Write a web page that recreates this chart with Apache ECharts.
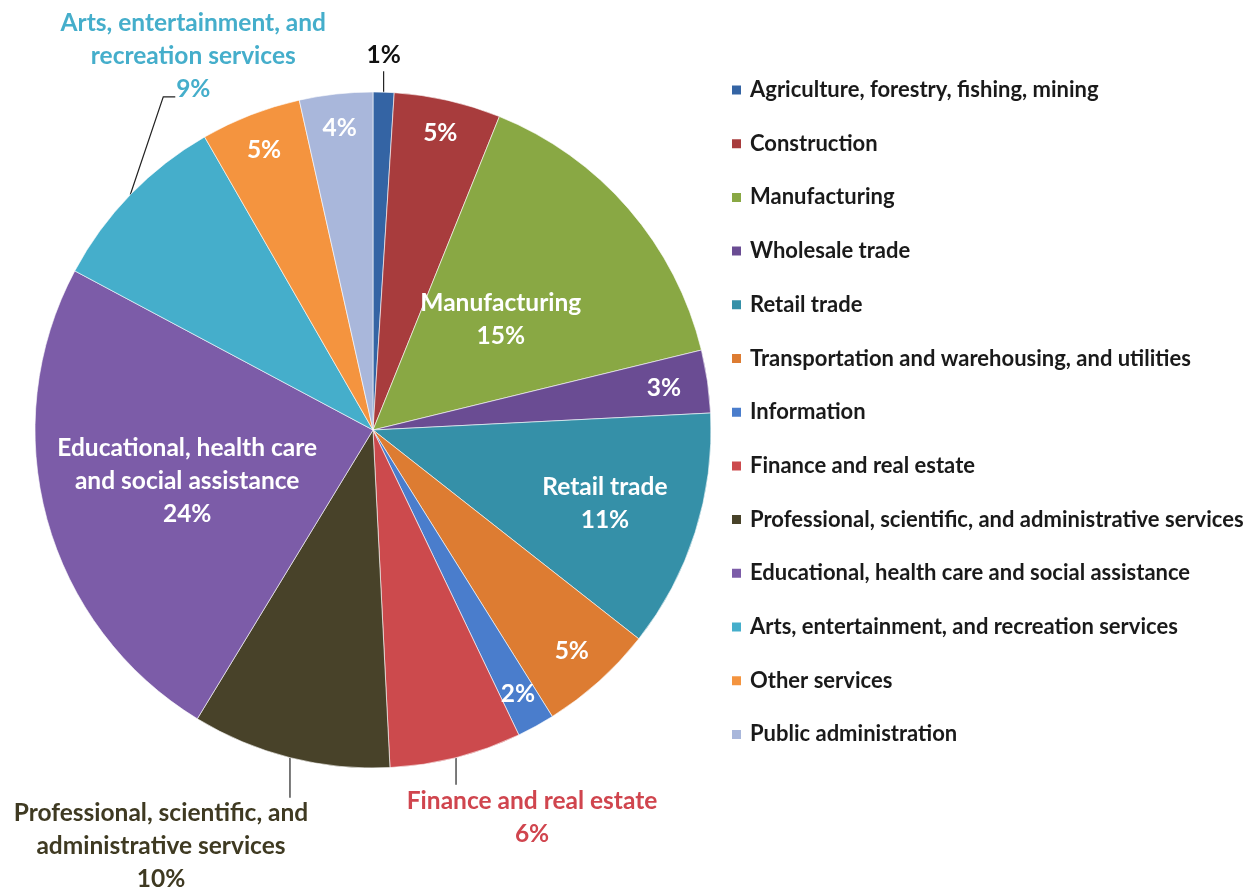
<!DOCTYPE html>
<html><head><meta charset="utf-8">
<script src="https://cdn.jsdelivr.net/npm/echarts@6/dist/echarts.min.js"></script>
<style>html,body{margin:0;padding:0;background:#fff}#c{width:1257px;height:892px}</style>
</head><body><div id="c"></div>
<script>
// ---- data ----
const categories = [
  'Agriculture, forestry, fishing, mining',
  'Construction',
  'Manufacturing',
  'Wholesale trade',
  'Retail trade',
  'Transportation and warehousing, and utilities',
  'Information',
  'Finance and real estate',
  'Professional, scientific, and administrative services',
  'Educational, health care and social assistance',
  'Arts, entertainment, and recreation services',
  'Other services',
  'Public administration'
];
const values = [1.0, 5.1, 15.1, 3.0, 11.4, 5.5, 1.8, 6.3, 9.5, 24.1, 8.9, 4.8, 3.5];
const pctLabels = [1, 5, 15, 3, 11, 5, 2, 6, 10, 24, 9, 5, 4];
const labelNames = [
  '', '', 'Manufacturing', '', 'Retail trade', '', '',
  'Finance and real estate',
  'Professional, scientific, and\nadministrative services',
  'Educational, health care\nand social assistance',
  'Arts, entertainment, and\nrecreation services',
  '', ''
];

// ---- styling ----
const colors = ['#3464A4','#A83C3D','#89A844','#6A4C93','#3590A8','#DD7C32','#4A7DCC',
                '#CC4A4D','#484229','#7C5CA8','#45AECB','#F4943F','#A9B7DB'];
const labelColors = {0:'#111111', 7:'#D0454E', 8:'#3F3A22', 10:'#45AECB'};
const CX = 373, CY = 430, R = 338;
// inside label radial fraction
const insideFrac = {1:0.9, 2:0.5, 3:0.87, 4:0.72, 5:0.88, 6:0.89, 9:0.57, 11:0.89, 12:0.9};
// outside labels: leader-line bend points & text centre as offsets from the edge point
const outside = {
  0:  {line:[[0,-21]], text:[0,-37]},
  10: {line:[[33,-98],[45,-98]], text:[63,-139]},
  7:  {line:[[0,27]], text:[76,60]},
  8:  {line:[[0,40]], text:[-129,88]}
};
const FONT = 'Lato, "Open Sans", sans-serif';

const total = values.reduce((a,b)=>a+b,0);
const midAngles = [];
let acc = 0;
values.forEach(v => { midAngles.push((acc + v/2)/total*2*Math.PI); acc += v; });

const data = categories.map((name,i) => {
  const isOut = outside[i] !== undefined;
  return {
    name, value: values[i],
    itemStyle: {color: colors[i]},
    label: {
      position: isOut ? 'outside' : 'inside',
      color: labelColors[i] || '#ffffff',
      formatter: () => (labelNames[i] ? labelNames[i] + '\n' : '') + pctLabels[i] + '%'
    },
    labelLine: {show: isOut, lineStyle:{color:'#222', width:1.2}}
  };
});

const chart = echarts.init(document.getElementById('c'));
chart.setOption({
  backgroundColor:'#ffffff',
  animation:false,
  legend:{
    orient:'vertical', left:725, top:74,
    itemWidth:11, itemHeight:11, itemGap:31.7,
    icon:'rect',
    textStyle:{fontFamily:FONT, fontSize:22, fontWeight:'bold', color:'#1a1a1a', lineHeight:22, padding:[0,0,0,3]},
    data: categories
  },
  series:[{
    type:'pie',
    center:[CX, CY], radius:R,
    startAngle:90, clockwise:true,
    avoidLabelOverlap:false,
    itemStyle:{borderColor:'#ffffff', borderWidth:0.6},
    label:{fontFamily:FONT, fontSize:24.5, fontWeight:'bold', lineHeight:33, align:'center', verticalAlign:'middle'},
    labelLayout: function(p){
      const i = p.dataIndex;
      const a = midAngles[i];
      const sx = Math.sin(a), sy = -Math.cos(a);
      if (outside[i]) {
        const ex = CX + R*sx, ey = CY + R*sy;
        const o = outside[i];
        const pts = [[ex,ey]].concat(o.line.map(d=>[ex+d[0], ey+d[1]]));
        while (pts.length < 3) pts.push(pts[pts.length-1].slice());
        return {x: ex+o.text[0], y: ey+o.text[1], align:'center', verticalAlign:'middle', labelLinePoints: pts};
      }
      const f = insideFrac[i];
      return {x: CX + R*f*sx, y: CY + R*f*sy, align:'center', verticalAlign:'middle'};
    },
    data
  }]
});
</script>
</body></html>
